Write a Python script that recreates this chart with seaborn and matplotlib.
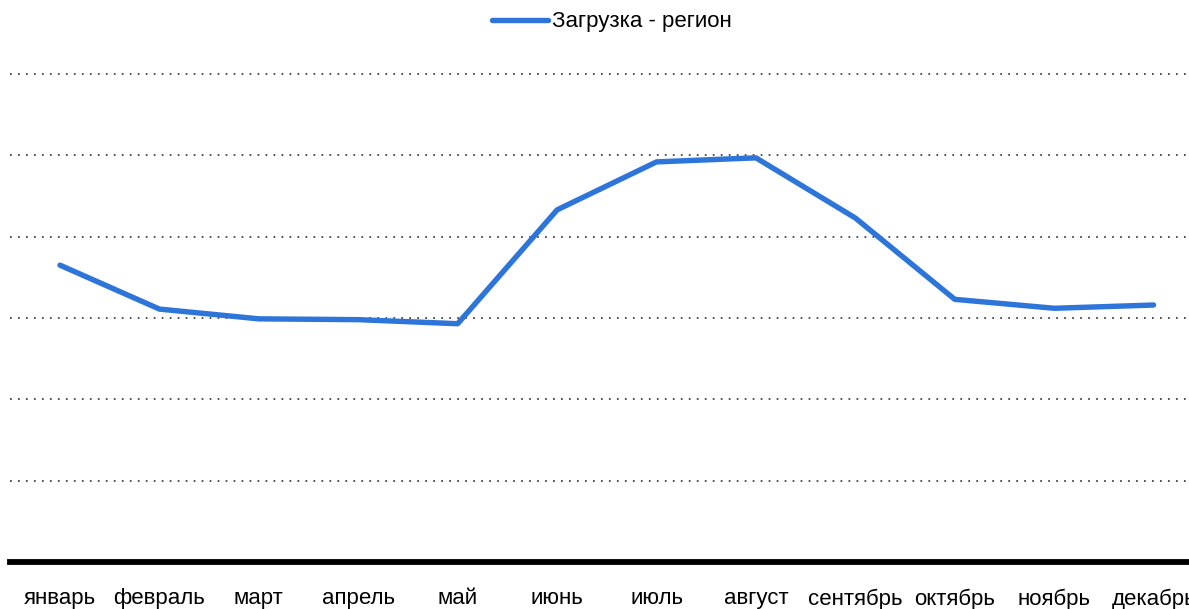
import pandas as pd
import matplotlib.pyplot as plt
import seaborn as sns

# monthly load values (baseline = 0, gridline step = 1)
months = ['январь', 'февраль', 'март', 'апрель', 'май', 'июнь',
          'июль', 'август', 'сентябрь', 'октябрь', 'ноябрь', 'декабрь']
load_values = [3.65, 3.11, 2.99, 2.98, 2.93, 4.33, 4.92, 4.97, 4.23, 3.23, 3.12, 3.16]
series_name = 'Загрузка - регион'

df = pd.DataFrame({'month': months, 'value': load_values, 'series': series_name})

sns.set_theme(style='white')
plt.rcParams['font.family'] = ['Liberation Sans', 'DejaVu Sans']

fig = plt.figure(figsize=(11.89, 6.09), dpi=100)
# axes run slightly past the right edge, like the original (December label is cut there too)
ax = fig.add_axes([10.3 / 1189, 47 / 609, 1193 / 1189, 492 / 609])

sns.lineplot(data=df, x='month', y='value', hue='series', sort=False,
             palette=['#2e75d9'], linewidth=3.9, ax=ax)

ax.set_xlim(-0.5, 11.5)
ax.set_ylim(0, 6.05)
ax.set_yticks([1, 2, 3, 4, 5, 6])
ax.set_yticklabels([])
ax.tick_params(axis='y', length=0)
ax.tick_params(axis='x', length=0, pad=19, labelsize=16, colors='black')
ax.set_xlabel('')
ax.set_ylabel('')

ax.grid(axis='y', color='#3a3a3a', linestyle=(0, (1, 3.6)), linewidth=1.25)
ax.grid(axis='x', visible=False)
for side in ['top', 'left', 'right']:
    ax.spines[side].set_visible(False)
ax.spines['bottom'].set_color('black')
ax.spines['bottom'].set_linewidth(4.2)

leg = ax.legend(loc='center', bbox_to_anchor=(610 / 1189 - 10.3 / 1189, (609 - 22 - 47) / 492),
                bbox_transform=ax.transAxes, frameon=False, fontsize=16,
                handlelength=2.5, handletextpad=0.18, labelcolor='black')
for line in leg.get_lines():
    line.set_linewidth(3.9)

fig.savefig('out.png', dpi=100, facecolor='white')
